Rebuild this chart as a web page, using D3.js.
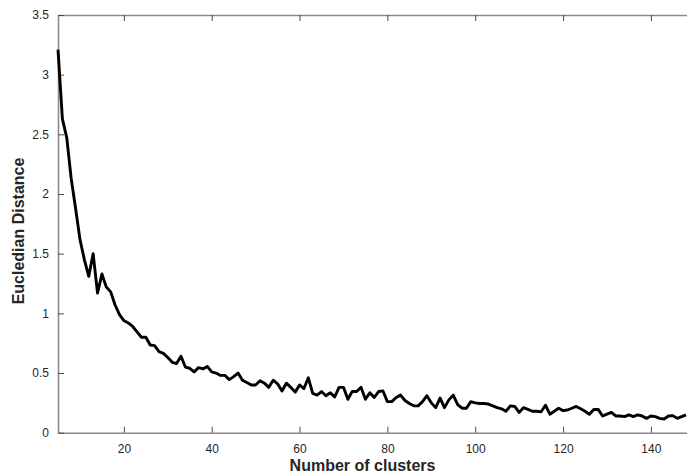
<!DOCTYPE html>
<html>
<head>
<meta charset="utf-8">
<script src="https://cdn.jsdelivr.net/npm/d3@7/dist/d3.min.js"></script>
<style>
  html, body { margin: 0; padding: 0; background: #fff; }
  svg { display: block; }
</style>
</head>
<body>
<svg id="chart" width="687" height="472"></svg>
<script>
const clusters = [5,6,7,8,9,10,11,12,13,14,15,16,17,18,19,20,21,22,23,24,25,26,27,28,29,30,
  31,32,33,34,35,36,37,38,39,40,41,42,43,44,45,46,47,48,49,50,51,52,53,54,55,56,57,58,59,60,
  61,62,63,64,65,66,67,68,69,70,71,72,73,74,75,76,77,78,79,80,81,82,83,84,85,86,87,88,89,90,
  91,92,93,94,95,96,97,98,99,100,101,102,103,104,105,106,107,108,109,110,111,112,113,114,115,
  116,117,118,119,120,121,122,123,124,125,126,127,128,129,130,131,132,133,134,135,136,137,138,
  139,140,141,142,143,144,145,146,147,148];
const distance = [3.21,2.63,2.47,2.13,1.88,1.62,1.45,1.31,1.50,1.17,1.33,1.22,1.18,1.07,0.99,0.94,
  0.92,0.89,0.845,0.80,0.80,0.735,0.73,0.68,0.665,0.63,0.59,0.58,0.64,0.55,0.54,0.51,0.545,0.535,
  0.555,0.51,0.50,0.48,0.48,0.445,0.47,0.50,0.44,0.42,0.40,0.40,0.435,0.415,0.38,0.44,0.41,0.35,
  0.415,0.38,0.34,0.40,0.37,0.46,0.33,0.315,0.345,0.31,0.335,0.30,0.38,0.38,0.28,0.345,0.345,0.38,
  0.28,0.335,0.295,0.345,0.35,0.26,0.26,0.295,0.315,0.27,0.245,0.225,0.225,0.26,0.31,0.25,0.21,
  0.29,0.21,0.275,0.315,0.235,0.205,0.205,0.26,0.25,0.245,0.245,0.24,0.225,0.21,0.20,0.18,0.225,
  0.22,0.17,0.21,0.195,0.18,0.18,0.175,0.23,0.155,0.18,0.205,0.185,0.19,0.205,0.22,0.20,0.18,
  0.155,0.195,0.195,0.14,0.155,0.17,0.14,0.14,0.135,0.15,0.135,0.15,0.14,0.12,0.14,0.135,0.12,
  0.115,0.14,0.143,0.12,0.135,0.15];
const xTicks = [20,40,60,80,100,120,140];
const yTicks = [0,0.5,1,1.5,2,2.5,3,3.5];
const xTickLabels = ["20","40","60","80","100","120","140"];
const yTickLabels = ["0","0.5","1","1.5","2","2.5","3","3.5"];
const xTitle = "Number of clusters";
const yTitle = "Eucledian Distance";

(function () {
const svg = d3.select("#chart");
const mLeft = 58, mTop = 15, mBottom = 432.7, mRight = 694.8;
const x = d3.scaleLinear().domain([5, 150]).range([mLeft, mRight]);
const y = d3.scaleLinear().domain([0, 3.5]).range([mBottom, mTop]);
const font = "'Liberation Sans', Arial, Helvetica, sans-serif";
const axisGray = "#8a8a8a", tickCol = "#4d4d4d", labelCol = "#262626";

function styleAxis(g) {
  g.select(".domain").attr("stroke", axisGray).attr("stroke-width", 1.6);
  g.selectAll(".tick line").attr("stroke", tickCol).attr("stroke-width", 1);
  g.selectAll(".tick text").attr("fill", labelCol).style("font-family", font).style("font-size", "12px");
}

const gx = svg.append("g").attr("transform", `translate(0,${mBottom})`)
  .call(d3.axisBottom(x).tickValues(xTicks).tickFormat((d,i)=>xTickLabels[i])
    .tickSizeInner(-6).tickSizeOuter(0).tickPadding(12));
styleAxis(gx);

const gt = svg.append("g").attr("transform", `translate(0,${mTop})`)
  .call(d3.axisTop(x).tickValues(xTicks).tickFormat("").tickSizeInner(-6).tickSizeOuter(0));
styleAxis(gt);

const gy = svg.append("g").attr("transform", `translate(${mLeft},0)`)
  .call(d3.axisLeft(y).tickValues(yTicks).tickFormat((d,i)=>yTickLabels[i])
    .tickSizeInner(-6).tickSizeOuter(0).tickPadding(9));
styleAxis(gy);

const line = d3.line().x((d,i)=>x(clusters[i])).y(d=>y(d));
svg.append("path").datum(distance)
  .attr("d", line)
  .attr("fill", "none")
  .attr("stroke", "#000")
  .attr("stroke-width", 2.9)
  .attr("stroke-linejoin", "round");

svg.append("text")
  .attr("x", 362.5).attr("y", 470.5)
  .attr("text-anchor", "middle")
  .style("font-family", font).style("font-size", "16px").style("font-weight", "bold")
  .attr("fill", labelCol)
  .text(xTitle);

svg.append("text")
  .attr("transform", "translate(24,231) rotate(-90)")
  .attr("text-anchor", "middle")
  .style("font-family", font).style("font-size", "16px").style("font-weight", "bold")
  .attr("fill", labelCol)
  .text(yTitle);
})();
</script>
</body>
</html>
